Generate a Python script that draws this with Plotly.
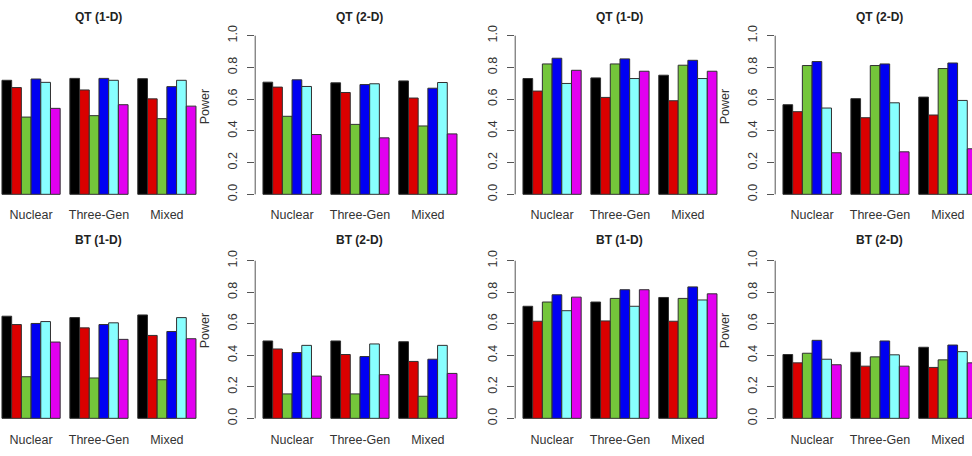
import plotly.graph_objects as go
from plotly.subplots import make_subplots

W, H = 972, 456

categories = ["Nuclear", "Three-Gen", "Mixed"]
bar_colors = ["#000000", "#DA0000", "#74C63A", "#0000F2", "#88FFFF", "#E200F0"]
panel_titles = ["QT (1-D)", "QT (2-D)", "QT (1-D)", "QT (2-D)",
                "BT (1-D)", "BT (2-D)", "BT (1-D)", "BT (2-D)"]
y_ticks = [0.0, 0.2, 0.4, 0.6, 0.8, 1.0]
y_ticktext = ["0.0", "0.2", "0.4", "0.6", "0.8", "1.0"]
y_label = "Power"

# values per panel: one row per category (Nuclear, Three-Gen, Mixed), 6 series each
qt1d_a = [[0.719, 0.673, 0.487, 0.727, 0.706, 0.542],
          [0.731, 0.658, 0.496, 0.731, 0.719, 0.565],
          [0.729, 0.602, 0.477, 0.679, 0.719, 0.556]]
qt2d_a = [[0.707, 0.676, 0.492, 0.722, 0.680, 0.377],
          [0.703, 0.642, 0.441, 0.692, 0.697, 0.356],
          [0.715, 0.607, 0.431, 0.669, 0.705, 0.381]]
qt1d_b = [[0.730, 0.651, 0.822, 0.858, 0.699, 0.782],
          [0.734, 0.611, 0.822, 0.854, 0.730, 0.776],
          [0.751, 0.590, 0.814, 0.845, 0.730, 0.776]]
qt2d_b = [[0.565, 0.521, 0.812, 0.837, 0.544, 0.262],
          [0.603, 0.483, 0.812, 0.822, 0.577, 0.268],
          [0.613, 0.500, 0.793, 0.828, 0.592, 0.287]]
bt1d_a = [[0.648, 0.595, 0.264, 0.602, 0.614, 0.484],
          [0.639, 0.574, 0.256, 0.595, 0.606, 0.501],
          [0.656, 0.526, 0.245, 0.551, 0.639, 0.505]]
bt2d_a = [[0.491, 0.440, 0.155, 0.417, 0.463, 0.268],
          [0.491, 0.405, 0.155, 0.392, 0.472, 0.277],
          [0.486, 0.361, 0.140, 0.375, 0.463, 0.285]]
bt1d_b = [[0.711, 0.616, 0.738, 0.784, 0.683, 0.769],
          [0.738, 0.618, 0.761, 0.816, 0.711, 0.816],
          [0.767, 0.616, 0.761, 0.834, 0.751, 0.790]]
bt2d_b = [[0.405, 0.352, 0.413, 0.495, 0.375, 0.340],
          [0.419, 0.331, 0.390, 0.491, 0.403, 0.331],
          [0.451, 0.323, 0.371, 0.465, 0.423, 0.352]]

panels = [qt1d_a, qt2d_a, qt1d_b, qt2d_b, bt1d_a, bt2d_a, bt1d_b, bt2d_b]

# ---- layout geometry (pixels) ----
PX_PER_CAT = 67.9          # one category = 7 bar widths
col_left = [-5.8, 255.2, 515.2, 775.2]   # plot-region left edges (may be off-canvas)
REGION_W = 3.086 * PX_PER_CAT             # full region width in px (range -0.543..2.543)
row_zero = [192.0, 418.0]   # pixel y of value 0
row_one = [32.0, 259.0]     # pixel y of value 1
show_axis = [False, True, True, True]
show_ylab = [False, True, False, True]
FONT = "Liberation Sans, Arial, sans-serif"

fig = make_subplots(rows=2, cols=4)

def fx(p):
    return p / W

def fy(p):
    return 1 - p / H

for idx, data in enumerate(panels):
    r, c = idx // 4, idx % 4
    for s in range(6):
        fig.add_trace(go.Bar(
            x=categories, y=[data[g][s] for g in range(3)],
            marker=dict(color=bar_colors[s], line=dict(color="#303030", width=1)),
            showlegend=False, hoverinfo="skip"),
            row=r + 1, col=c + 1)

    left = col_left[c]
    right = left + REGION_W
    lo_cat, hi_cat = -0.543, 2.543
    if left < 0:
        lo_cat = lo_cat + (-left) / PX_PER_CAT
        left = 0
    if right > W:
        hi_cat = hi_cat - (right - W) / PX_PER_CAT
        right = W
    ppu = row_zero[r] - row_one[r]
    bot = row_zero[r] + 0.04 * ppu
    top = row_one[r] - 0.04 * ppu
    n = idx + 1
    xa = "xaxis" if n == 1 else f"xaxis{n}"
    ya = "yaxis" if n == 1 else f"yaxis{n}"
    fig.layout[xa].update(domain=[fx(left), fx(right)], range=[lo_cat, hi_cat],
                          showgrid=False, zeroline=False, showline=False, ticks="",
                          tickfont=dict(family=FONT, size=12.5, color="#333333"),
                          ticklabelstandoff=5 if r == 0 else 6, fixedrange=True)
    fig.layout[ya].update(domain=[fy(bot), fy(top)], range=[-0.04, 1.04],
                          showgrid=False, zeroline=False, showline=False,
                          tickvals=y_ticks, ticktext=y_ticktext,
                          ticks="outside" if show_axis[c] else "",
                          ticklen=7, tickwidth=1, tickcolor="#555555",
                          showticklabels=show_axis[c], tickangle=-90,
                          tickfont=dict(family=FONT, size=12.5, color="#333333"),
                          ticklabelstandoff=5, fixedrange=True)
    xref_dom = "x domain" if n == 1 else f"x{n} domain"
    yref = "y" if n == 1 else f"y{n}"
    if show_axis[c]:
        fig.add_shape(type="line", xref=xref_dom, yref=yref, x0=0, x1=0, y0=0, y1=1,
                      line=dict(color="#555555", width=1))
    # title
    cx = (col_left[c] + col_left[c] + REGION_W) / 2
    ty = 13 if r == 0 else 238
    fig.add_annotation(x=fx(cx), y=fy(ty), xref="paper", yref="paper",
                       text=f"<b>{panel_titles[idx]}</b>", showarrow=False,
                       xanchor="center", yanchor="middle",
                       font=dict(family=FONT, size=12, color="#222222"))
    if show_ylab[c]:
        fig.add_annotation(x=fx(col_left[c] - 50), y=fy(row_zero[r] - 88), xref="paper", yref="paper",
                           text=y_label, textangle=-90, showarrow=False,
                           xanchor="center", yanchor="middle",
                           font=dict(family=FONT, size=12.5, color="#333333"))

fig.update_layout(width=W, height=H, margin=dict(l=0, r=0, t=0, b=0),
                  barmode="group", bargap=1 / 7, bargroupgap=0,
                  plot_bgcolor="white", paper_bgcolor="white")

fig.write_html("out.html")
